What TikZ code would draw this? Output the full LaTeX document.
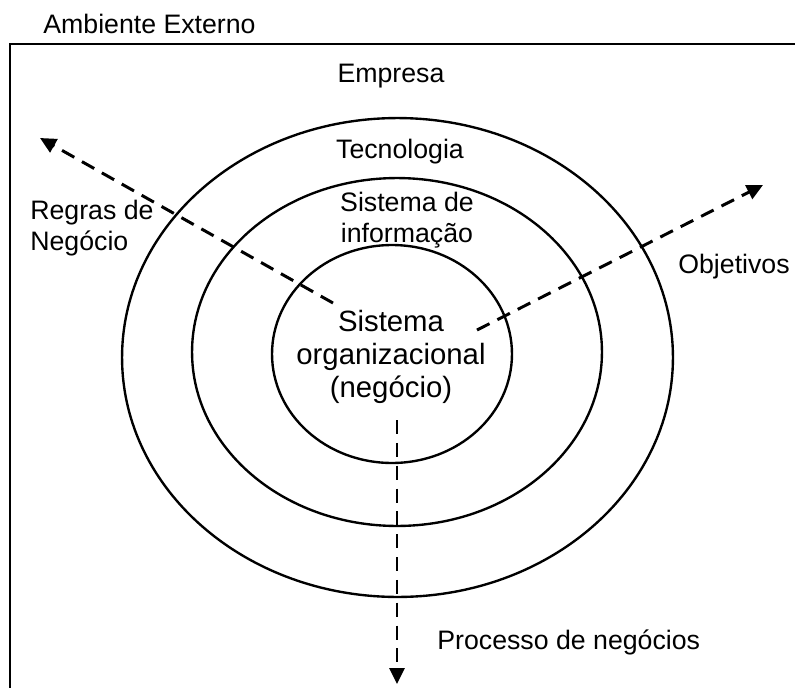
\documentclass[tikz,border=0pt]{standalone}
\usepackage{fontspec}
\setmainfont{Liberation Sans}
\usepackage{tikz}
\usetikzlibrary{shapes.geometric}
\usetikzlibrary{arrows.meta}
\usetikzlibrary{positioning}

\begin{document}
\begin{tikzpicture}[x=0.02cm,y=-0.02cm,
    label/.style={inner sep=0pt, align=center, font=\fontsize{15.2}{18}\selectfont},
    layer/.style={draw, ellipse, line width=1.35pt, inner sep=0pt},
    flow/.style={line width=1.7pt, dash pattern=on 8pt off 5pt,
      -{Triangle[length=0.32cm,width=0.3cm]}}]
  \useasboundingbox (0,0) rectangle (795,687);
  \clip (0,0) rectangle (795,687);
  % ambiente externo
  \draw[line width=1.4pt] (10,720) -- (10,44) -- (830,44);
  \node[label, anchor=west] (ambiente) at (43,24) {Ambiente Externo};

  % camadas
  \node[layer, minimum width=11.02cm, minimum height=9.58cm] (empresa) at (397.5,357.5) {};
  \node[layer, minimum width=8.2cm, minimum height=6.96cm] (tecnologia) at (397,352) {};
  \node[layer, minimum width=4.8cm, minimum height=4.36cm] (negocio) at (392,354) {};

  \node[label] (lempresa) at (391,76) {Empresa};
  \node[label] (ltecno) at (400,152) {Tecnologia};
  \node[label] (lsi) at (407,220) {Sistema de\\informação};
  \node[label, font=\fontsize{16.7}{19}\selectfont] (lsn) at (391,357)
    {Sistema\\organizacional\\(negócio)};

  % saidas
  \coordinate (regras0) at (333,303);
  \coordinate (regras1) at (40,138);
  \coordinate (obj0) at (477,330);
  \coordinate (obj1) at (763,185);
  \coordinate (proc0) at (397,420);
  \coordinate (proc1) at (397,684);

  \draw[flow] (regras0) -- (regras1);
  \draw[flow] (obj0) -- (obj1);
  \draw[flow] (proc0) -- (proc1);

  \node[label, align=left, anchor=west] (lregras) at (30,228) {Regras de\\Negócio};
  \node[label, anchor=west] (lobj) at (678,267) {Objetivos};
  \node[label, anchor=west] (lproc) at (437,642) {Processo de negócios};
\end{tikzpicture}
\end{document}
